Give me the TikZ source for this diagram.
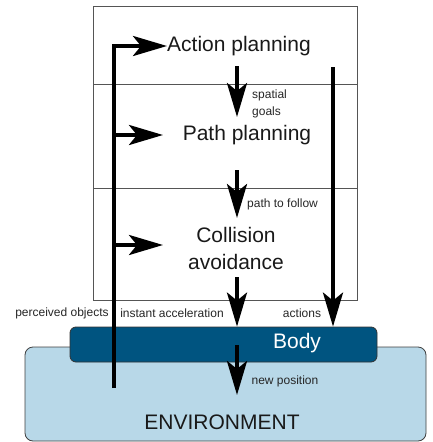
\documentclass[tikz,border=0pt]{standalone}
\usepackage{fontspec}
\setmainfont{Liberation Sans}
\usetikzlibrary{arrows.meta,calc}
\definecolor{bodyblue}{HTML}{005480}
\definecolor{envblue}{HTML}{B8D8E8}
\definecolor{frame}{HTML}{555555}
\begin{document}
\begin{tikzpicture}[x=1pt,y=-1pt,
  layer/.style={draw=frame,line width=0.8pt,minimum width=264pt,inner sep=0pt},
  big/.style={font=\fontsize{21}{27}\selectfont,inner sep=0pt,text=black!90},
  small/.style={font=\fontsize{12}{17}\selectfont,inner sep=0pt,text=black!85,align=left},
  flow/.style={line width=4pt,-{Stealth[length=34pt,width=20pt,inset=8pt]}},
  plain/.style={line width=4pt}]
\useasboundingbox (0,0) rectangle (432,442);
% layers
\node[layer,minimum height=78pt] (L1) at (225,45) {};
\node[layer,minimum height=104pt] (L2) at (225,136) {};
\node[layer,minimum height=112pt] (L3) at (225,244) {};
% environment and body
\node[draw=black!75,line width=0.8pt,fill=envblue,rounded corners=8pt,minimum width=401pt,minimum height=94pt,inner sep=0pt] (env) at (225.5,394) {};
\node[draw=black!80,line width=0.8pt,fill=bodyblue,rounded corners=6pt,minimum width=307pt,minimum height=35pt,inner sep=0pt] (body) at (223.5,344.5) {};
\node[big,text=white] (bodytext) at (297,343.5) {Body};
\node[big] (envtext) at (222,422) {ENVIRONMENT};
% layer texts
\node[big,anchor=west] (ap) at (167,46) {Action planning};
\node[big] (pp) at (247,135) {Path planning};
\node[big,align=center] (ca) at (236,248.5) {Collision\\avoidance};
% small labels
\node[small,anchor=west] (sg) at (252,103.5) {spatial\\goals};
\node[small,anchor=west] (ptf) at (247,204) {path to follow};
\node[small] (po) at (62,313) {perceived objects};
\node[small] (ia) at (172,313) {instant acceleration};
\node[small] (act) at (302,313) {actions};
\node[small] (np) at (285,381) {new position};
% coordinates
\coordinate (lbot) at (114,388);
\coordinate (ppin) at (114,135);
\coordinate (ppend) at (163,135);
\coordinate (cain) at (114,245);
\coordinate (caend) at (163,245);
\coordinate (a1s) at (237,66);
\coordinate (a1e) at (237,117);
\coordinate (a2s) at (237,170);
\coordinate (a2e) at (237,218);
\coordinate (a3s) at (237,277);
\coordinate (a4s) at (237,345);
\coordinate (a4e) at (237,395);
\coordinate (rtop) at (333,67);
% connectors
\draw[flow] (a1s) -- (a1e);
\draw[flow] (a2s) -- (a2e);
\draw[flow] (a3s) -- (a3s |- body.north);
\draw[flow] (rtop) -- (rtop |- body.north);
\draw[flow] (a4s) -- (a4e);
\draw[flow] (lbot) |- (ap.west);
\draw[flow] (ppin) -- (ppend);
\draw[flow] (cain) -- (caend);
\end{tikzpicture}
\end{document}
